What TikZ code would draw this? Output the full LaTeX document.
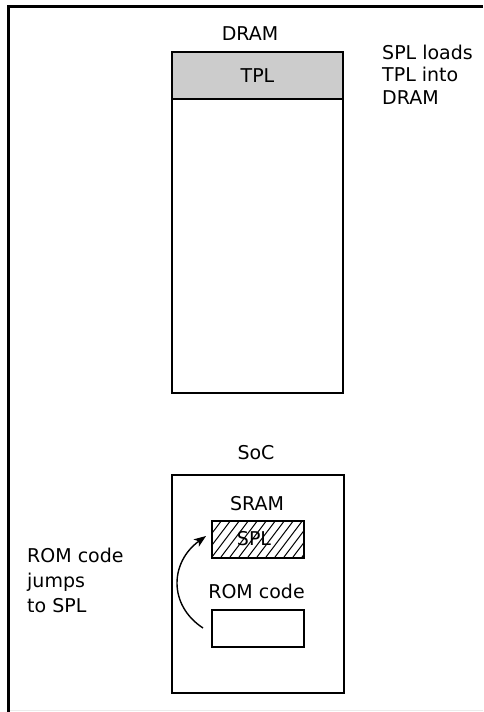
\documentclass[tikz,border=0pt]{standalone}
\usepackage{fontspec}
\setmainfont{DejaVu Sans}
\usetikzlibrary{arrows.meta}
\tikzset{
  lbl/.style={inner sep=0pt, font=\fontsize{19}{22.5}\selectfont},
  box/.style={draw=black, line width=2pt, inner sep=0pt, anchor=north west},
  memfill/.style={fill=black!20},
  hatchline/.style={line width=1pt},
  jump/.style={-{Stealth[length=12pt,width=9pt,inset=3pt]}, line width=1.4pt},
}
\begin{document}
\begin{tikzpicture}[x=1pt,y=-1pt]
\useasboundingbox (0,0) rectangle (483,712);
% outer frame
\draw[line width=3pt] (483,6.5) -- (8.5,6.5) -- (8.5,712);
\draw[black!8, line width=1pt] (10,710.5) -- (483,710.5);

% DRAM
\node[lbl] (dramlbl) at (250,33.5) {DRAM};
\node[box, minimum width=171pt, minimum height=341pt] (dram) at (171,51) {};
\node[box, memfill, minimum width=171pt, minimum height=47pt, font=\fontsize{19}{22.5}\selectfont] (tpl) at (171,51) {TPL};
\node[lbl, align=left, anchor=north west] (note1) at (382,44.5) {SPL loads\\TPL into\\DRAM};

% SoC
\node[lbl] (soclbl) at (256,452.5) {SoC};
\node[box, minimum width=172pt, minimum height=218pt] (soc) at (171,474) {};
\node[lbl] (sramlbl) at (257,503.5) {SRAM};
\node[box, line width=1.6pt, minimum width=92pt, minimum height=37pt] (spl) at (211,520) {};
\begin{scope}
  \clip (spl.south west) rectangle (spl.north east);
  \foreach \x in {176,185,...,312} {
    \draw[hatchline] (\x,557) -- ++(28,-37);
  }
\end{scope}
\node[box, line width=1.6pt, minimum width=92pt, minimum height=37pt] at (211,520) {};
\node[lbl] (spltxt) at (254,538.5) {SPL};
\node[lbl] (romlbl) at (256.5,591.5) {ROM code};
\node[box, line width=1.6pt, minimum width=92pt, minimum height=37pt] (rom) at (211,609) {};

% jump arrow
\coordinate (jstart) at (203,628);
\coordinate (jend) at (206,536);
\draw[jump] (jstart) .. controls (168,605) and (170,562) .. (jend);

\node[lbl, align=left, anchor=north west, font=\fontsize{19}{25}\selectfont] (note2) at (27,547.5) {ROM code\\jumps\\to SPL};
\end{tikzpicture}
\end{document}
